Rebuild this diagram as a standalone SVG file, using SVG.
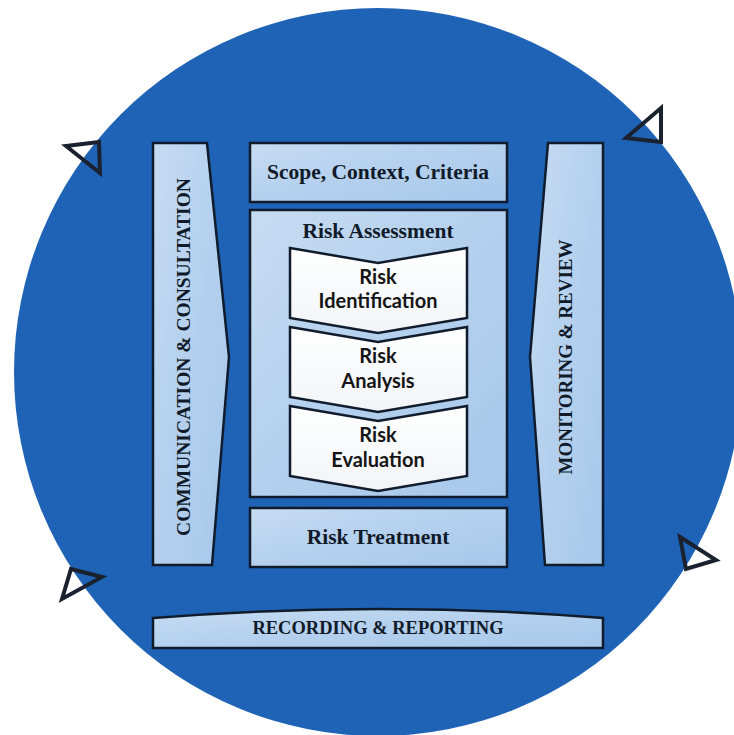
<svg xmlns="http://www.w3.org/2000/svg" width="734" height="735" viewBox="0 0 734 735">
<defs>
<linearGradient id="box" x1="0" y1="0" x2="1" y2="1">
<stop offset="0" stop-color="#c6dcf2"/>
<stop offset="0.5" stop-color="#b4d0ee"/>
<stop offset="1" stop-color="#a8c8ea"/>
</linearGradient>
<linearGradient id="chev" x1="0" y1="0" x2="0" y2="1">
<stop offset="0" stop-color="#ffffff"/>
<stop offset="1" stop-color="#f2f4f7"/>
</linearGradient>
</defs>
<style>
.box{fill:url(#box);stroke:#101c2c;stroke-width:2.5}
.chev{fill:url(#chev);stroke:#101c2c;stroke-width:2.5}
.tri{fill:none;stroke:#1a2230;stroke-width:4;stroke-linejoin:miter}
.t{font-family:"Liberation Serif","DejaVu Serif",serif;font-weight:bold;fill:#101a28;text-anchor:middle}
.s{font-family:Lato,"Noto Sans",sans-serif;font-weight:bold;fill:#151515;text-anchor:middle;font-size:20px}
</style>
<rect width="734" height="735" fill="#ffffff"/>
<circle cx="378" cy="372" r="364" fill="#1f63b7"/>
<g id="connectors">
<polygon class="tri" points="66,146 99,142 100,173"/>
<polygon class="tri" points="626,138 661,108 661,142"/>
<polygon class="tri" points="62,599 71,569 102,577"/>
<polygon class="tri" points="680,537 716,560 686,569"/>
</g>
<g id="communication">
<polygon class="box" points="153,143 207,143 229,357 212,565 153,565"/>
<text class="t" font-size="19.5" transform="translate(190,357) rotate(-90)">COMMUNICATION &amp; CONSULTATION</text>
</g>
<g id="monitoring">
<polygon class="box" points="548,143 603,143 603,565 545,565 530,357"/>
<text class="t" font-size="19" transform="translate(572,357) rotate(-90)">MONITORING &amp; REVIEW</text>
</g>
<g id="scope">
<rect class="box" x="250" y="143" width="257" height="59"/>
<text class="t" font-size="21.5" x="378" y="179">Scope, Context, Criteria</text>
</g>
<g id="assessment">
<rect class="box" x="250" y="210" width="257" height="287"/>
<text class="t" font-size="21.5" x="378" y="238">Risk Assessment</text>
</g>
<g id="identification">
<polygon class="chev" points="290,248 378,263 467,248 467,318 378,333 290,318"/>
<text class="s" x="378" y="284">Risk</text>
<text class="s" x="378" y="308">Identification</text>
</g>
<g id="analysis">
<polygon class="chev" points="290,327 378,342 467,327 467,397 378,412 290,397"/>
<text class="s" x="378" y="363">Risk</text>
<text class="s" x="378" y="388">Analysis</text>
</g>
<g id="evaluation">
<polygon class="chev" points="290,406 378,421 467,406 467,476 378,491 290,476"/>
<text class="s" x="378" y="442">Risk</text>
<text class="s" x="378" y="467">Evaluation</text>
</g>
<g id="treatment">
<rect class="box" x="250" y="508" width="257" height="59"/>
<text class="t" font-size="21.5" x="378" y="544">Risk Treatment</text>
</g>
<g id="recording">
<path class="box" d="M153,618 Q380,600 603,618 L603,648 L153,648 Z"/>
<text class="t" font-size="18.5" x="378" y="634">RECORDING &amp; REPORTING</text>
</g>
</svg>
